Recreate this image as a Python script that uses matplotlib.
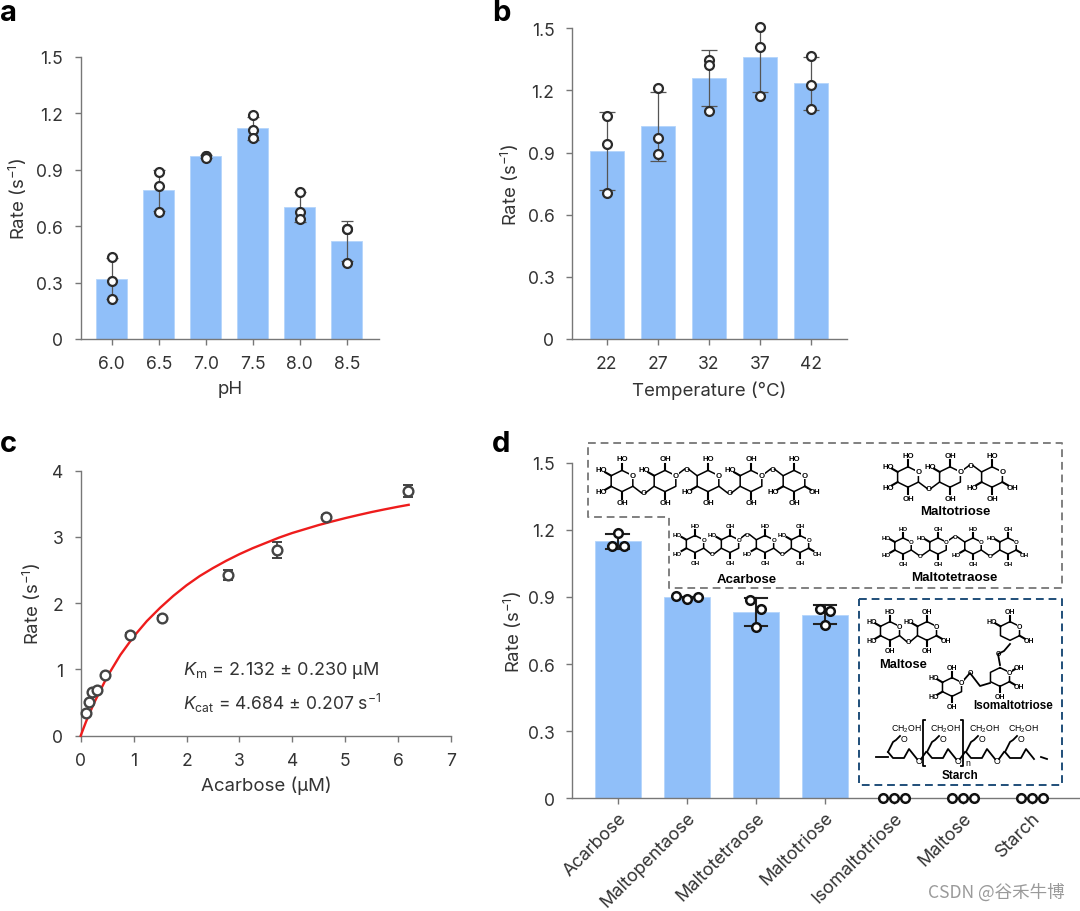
import numpy as np
import matplotlib
matplotlib.use("Agg")
import matplotlib.pyplot as plt

plt.rcParams["font.family"] = ["Inter", "DejaVu Sans"]
plt.rcParams["mathtext.fontset"] = "custom"
plt.rcParams["mathtext.rm"] = "Inter"
plt.rcParams["mathtext.it"] = "Inter:italic"
plt.rcParams["mathtext.default"] = "regular"

# panel a
ph_labels = ["6.0", "6.5", "7.0", "7.5", "8.0", "8.5"]
ph_rate = [0.32, 0.79, 0.97, 1.12, 0.70, 0.52]
ph_err = [0.11, 0.11, 0.01, 0.06, 0.08, 0.108]
ph_points = [[0.434, 0.306, 0.21], [0.888, 0.812, 0.673], [0.975, 0.97, 0.963],
             [1.188, 1.11, 1.067], [0.782, 0.673, 0.64], [0.582, 0.582, 0.404]]

# panel b
temp_labels = ["22", "27", "32", "37", "42"]
temp_rate = [0.908, 1.027, 1.259, 1.363, 1.234]
temp_err = [0.19, 0.167, 0.135, 0.17, 0.128]
temp_points = [[1.077, 0.942, 0.703], [1.214, 0.969, 0.895], [1.347, 1.325, 1.101],
               [1.505, 1.412, 1.173], [1.365, 1.228, 1.109]]

# panel c
acarbose_conc = [0.095, 0.15, 0.21, 0.31, 0.46, 0.926, 1.544, 2.785, 3.71, 4.644, 6.194]
acarbose_rate = [0.347, 0.508, 0.654, 0.694, 0.916, 1.52, 1.776, 2.425, 2.807, 3.306, 3.688]
acarbose_err = [0.02, 0.02, 0.02, 0.02, 0.02, 0.03, 0.03, 0.07, 0.12, 0.03, 0.09]
fit_x = [0, 0.1, 0.25, 0.5, 0.75, 1.0, 1.25, 1.5, 1.75, 2.0, 2.25, 2.5, 2.75, 3.0, 3.25,
         3.5, 3.75, 4.0, 4.25, 4.5, 4.75, 5.0, 5.25, 5.5, 5.75, 6.0, 6.2]
fit_y = [0, 0.21, 0.49, 0.89, 1.22, 1.495, 1.73, 1.93, 2.11, 2.27, 2.41, 2.53, 2.64, 2.74, 2.83,
         2.91, 2.99, 3.06, 3.12, 3.18, 3.233, 3.284, 3.331, 3.376, 3.417, 3.456, 3.485]

# panel d
substrates = ["Acarbose", "Maltopentaose", "Maltotetraose", "Maltotriose",
              "Isomaltotriose", "Maltose", "Starch"]
sub_rate = [1.15, 0.90, 0.835, 0.82, 0, 0, 0]
sub_low = [1.115, 0.9, 0.772, 0.781]
sub_high = [1.18, 0.9, 0.896, 0.863]
sub_points = [[1.185, 1.13, 1.13], [0.905, 0.893, 0.90], [0.887, 0.846, 0.765],
              [0.846, 0.838, 0.775], [0, 0, 0], [0, 0, 0], [0, 0, 0]]
sub_jitter = [[0, -0.09, 0.09], [-0.16, 0, 0.16], [-0.08, 0.07, 0],
              [-0.077, 0.077, 0], [-0.16, 0, 0.16], [-0.16, 0, 0.16], [-0.16, 0, 0.16]]

W, H = 1080, 912
BAR = "#90BFF9"
INK = "#333333"
AX = "#777777"
CHEM = "Liberation Sans"

fig = plt.figure(figsize=(W / 100, H / 100), dpi=100)


def axes_px(l, r, top, bottom):
    return fig.add_axes([l / W, 1 - bottom / H, (r - l) / W, (bottom - top) / H])


def style(ax, ylab_x, l, r):
    for s in ["top", "right"]:
        ax.spines[s].set_visible(False)
    for s in ["left", "bottom"]:
        ax.spines[s].set_color(AX)
        ax.spines[s].set_linewidth(1.0)
    ax.tick_params(length=4.6, width=1.0, color=AX, labelsize=12.6, labelcolor=INK, pad=7)
    ax.tick_params(axis="y", pad=8)
    ax.set_ylabel("Rate (s$^{-1}$)", fontsize=13.4, color=INK, va="center")
    ax.yaxis.set_label_coords((ylab_x - l) / (r - l), 0.5)


def bar_panel(ax, labels, rate, err, points, cap):
    x = np.arange(len(labels))
    ax.bar(x, rate, width=0.66, color=BAR, edgecolor="#B4D5FB", linewidth=0.6, zorder=2)
    ax.errorbar(x, rate, yerr=err, fmt="none", ecolor="#555555", elinewidth=0.9,
                capsize=cap, capthick=0.9, zorder=3)
    for i, pts in enumerate(points):
        ax.plot([i] * len(pts), pts, "o", ms=6.4, mfc="white", mec="#2b2b2b", mew=1.6,
                zorder=4, clip_on=False)
    ax.set_xticks(x)
    ax.set_xticklabels(labels)
    ax.set_ylim(0, 1.5)
    ax.set_yticks([0, 0.3, 0.6, 0.9, 1.2, 1.5])
    ax.set_yticklabels(["0", "0.3", "0.6", "0.9", "1.2", "1.5"])


# a
ax = axes_px(80.7, 378.7, 57.7, 340)
bar_panel(ax, ph_labels, ph_rate, ph_err, ph_points, 4.3)
ax.set_xlim(-0.66, 5.68)
style(ax, 18, 80.7, 378.7)
ax.set_xlabel("pH", fontsize=13.4, color=INK, labelpad=6)

# b
ax = axes_px(572, 846.7, 29.3, 340)
bar_panel(ax, temp_labels, temp_rate, temp_err, temp_points, 6)
ax.set_xlim(-0.68, 4.7)
style(ax, 510, 572, 846.7)
ax.set_xlabel("Temperature (°C)", fontsize=13.4, color=INK, labelpad=6)

# c
ax = axes_px(80.7, 451, 471.7, 736.7)
ax.errorbar(acarbose_conc, acarbose_rate, yerr=acarbose_err, fmt="none", ecolor="#333333",
            elinewidth=1.2, capsize=3.6, capthick=1.3, zorder=2)
ax.plot(fit_x, fit_y, color="#EE1C1C", lw=1.7, zorder=3, clip_on=False)
ax.plot(acarbose_conc, acarbose_rate, "o", ms=7, mfc="white", mec="#444444", mew=1.7,
        zorder=4, clip_on=False)
ax.set_xlim(0, 7)
ax.set_ylim(0, 4)
ax.set_xticks(range(8))
ax.set_yticks(range(5))
style(ax, 32, 80.7, 451)
ax.set_xlabel("Acarbose (µM)", fontsize=13.4, color=INK, labelpad=5)
ax.text(1.93, 1.0, r"$\mathit{K}_{m}$ = 2.132 ± 0.230 µM", fontsize=13, color=INK, va="center")
ax.text(1.93, 0.5, r"$\mathit{K}_{cat}$ = 4.684 ± 0.207 s$^{-1}$", fontsize=12.6, color=INK, va="center")

# d
ax = axes_px(572.3, 1079, 463.8, 799.3)
x = np.arange(len(substrates))
ax.bar(x, sub_rate, width=0.667, color=BAR, edgecolor="#B4D5FB", linewidth=0.6, zorder=2)
for i in range(len(sub_low)):
    ax.plot([i, i], [sub_low[i], sub_high[i]], color="#222222", lw=1.5, zorder=3)
    for v in [sub_low[i], sub_high[i]]:
        ax.plot([i - 0.165, i + 0.165], [v, v], color="#222222", lw=1.5, zorder=3)
for i, pts in enumerate(sub_points):
    ax.plot(x[i] + np.array(sub_jitter[i]), pts, "o", ms=6.2, mfc="white", mec="#111111",
            mew=1.8, zorder=4, clip_on=False)
ax.set_xlim(-0.66, 6.68)
ax.set_ylim(0, 1.5)
ax.set_xticks(x)
ax.set_yticks([0, 0.3, 0.6, 0.9, 1.2, 1.5])
ax.set_yticklabels(["0", "0.3", "0.6", "0.9", "1.2", "1.5"])
style(ax, 513, 572.3, 1079)
ax.set_xticklabels(substrates, rotation=45, ha="right", rotation_mode="anchor", fontsize=13.0)
ax.tick_params(axis="x", pad=3)

# overlay in pixel coordinates: panel letters, boxes, structures
ov = fig.add_axes([0, 0, 1, 1])
ov.set_xlim(0, W)
ov.set_ylim(H, 0)
ov.axis("off")
ov.patch.set_alpha(0)

for s, px, py in [("a", 0, 21), ("b", 492, 21), ("c", 0, 452), ("d", 492, 452)]:
    ov.text(px, py, s, fontsize=21, fontweight="bold", color="black", va="baseline")

ov.plot([588, 1062, 1062, 669, 669, 588, 588], [444, 444, 589, 589, 518, 518, 444],
        color="#808080", lw=1.4, ls=(0, (4, 2.5)))
ov.plot([859, 1062, 1062, 859, 859], [600, 600, 786, 786, 600],
        color="#1F4E79", lw=1.4, ls=(0, (4, 2.5)))


def chem_text(px, py, s, fs, weight="bold"):
    ov.text(px, py, s, fontsize=fs, ha="center", va="center", color="k",
            fontweight=weight, family=CHEM)


def ring(cx, cy, r, subs, fs):
    ang = np.radians([90, 30, -30, -90, -150, 150])
    vx = cx + r * np.cos(ang)
    vy = cy - r * 0.85 * np.sin(ang)
    ov.plot(np.r_[vx, vx[0]], np.r_[vy, vy[0]], color="k", lw=1.1)
    # the ring oxygen sits on vertex 1
    ov.text(vx[1], vy[1], "O", fontsize=fs, ha="center", va="center", color="k",
            fontweight="bold", family=CHEM, bbox=dict(fc="white", ec="none", pad=0.2))
    for idx, lab in subs:
        ex = vx[idx] + 0.55 * r * np.cos(ang[idx])
        ey = vy[idx] - 0.55 * r * np.sin(ang[idx])
        ov.plot([vx[idx], ex], [vy[idx], ey], color="k", lw=1.5)
        chem_text(ex + 4.5 * np.cos(ang[idx]), ey - 4.5 * np.sin(ang[idx]), lab, fs)


def chain(x0, y0, step, n, r, fs):
    for k in range(n):
        cx = x0 + k * step
        if k % 2 == 0:
            subs = [(0, "HO"), (4, "HO"), (3, "OH")]
            if k == 0:
                subs.append((5, "HO"))
        else:
            subs = [(0, "OH"), (5, "HO"), (3, "OH")]
        if k == n - 1:
            subs.append((2, "OH"))
        ring(cx, y0, r, subs, fs)
        if k < n - 1:
            # linker oxygen alternates below and above the chain
            ly = y0 + 0.95 * r if k % 2 == 0 else y0 - 0.95 * r
            sy = y0 + 0.42 * r if k % 2 == 0 else y0 - 0.42 * r
            ov.plot([cx + r * 0.87, cx + step / 2 - 2], [sy, ly], color="k", lw=1.1)
            ov.plot([cx + step / 2 + 2, cx + step - r * 0.87], [ly, sy], color="k", lw=1.1)
            chem_text(cx + step / 2, ly, "O", fs)


chain(622, 482, 43, 5, 12.5, 5.6)
chain(908, 478, 42, 3, 12, 5.6)
chain(695, 545, 35, 4, 10, 4.4)
chain(903, 547, 35, 4, 9.5, 4.4)
chain(890, 632, 37, 2, 11, 5)
ring(1010, 632, 11, [(0, "OH"), (5, "HO"), (2, "OH")], 5)
ring(1000, 678, 11, [(1, "OH"), (2, "OH"), (3, "OH")], 5)
ring(952, 688, 11, [(0, "OH"), (5, "HO"), (4, "HO"), (3, "OH")], 5)
ov.plot([1010, 1004, 998, 1000], [645, 652, 655, 666], color="k", lw=1.3)
chem_text(998, 655, "O", 5)
ov.plot([990, 980, 970, 963], [684, 687, 674, 682], color="k", lw=1.3)
chem_text(970, 674, "O", 5)

for s, px, py, fs in [("Maltotriose", 955, 512, 9.5), ("Acarbose", 747, 580, 9.5),
                      ("Maltotetraose", 954, 578, 9.6), ("Maltose", 903, 665, 9.3),
                      ("Isomaltotriose", 1013, 706, 8.4), ("Starch", 960, 776, 8.5)]:
    chem_text(px, py, s, fs)

# starch repeat units
ov.plot([876, 888], [758, 758], color="k", lw=1.3)
for k in range(4):
    dx = 39 * k
    ov.plot(np.array([888, 893, 896, 900]) + dx, [753, 743, 741, 737], color="k", lw=1.3)
    ov.plot(np.array([888, 893, 904, 909, 917]) + dx, [753, 759, 759, 750, 760], color="k", lw=1.3)
    chem_text(906 + dx, 729, "CH$_2$OH", 6.3, "normal")
    chem_text(904 + dx, 740, "O", 6.3, "normal")
    if k < 3:
        chem_text(919 + dx, 762, "O", 6.3, "normal")
        ov.plot(np.array([921, 926]) + dx, [760, 753], color="k", lw=1.3)
ov.plot([1041, 1047], [758, 760], color="k", lw=1.3)
ov.plot([925, 923, 923, 925], [721, 721, 767, 767], color="k", lw=1.3)
ov.plot([961, 963, 963, 961], [721, 721, 767, 767], color="k", lw=1.3)
chem_text(968, 764, "n", 6.3, "normal")

fig.text(928 / W, 1 - 893 / H, "CSDN @谷禾牛博", fontsize=12.6, color="#9a9a9a", va="center",
         family=["Noto Sans CJK SC", "DejaVu Sans"])

fig.savefig("out.png", dpi=100)
